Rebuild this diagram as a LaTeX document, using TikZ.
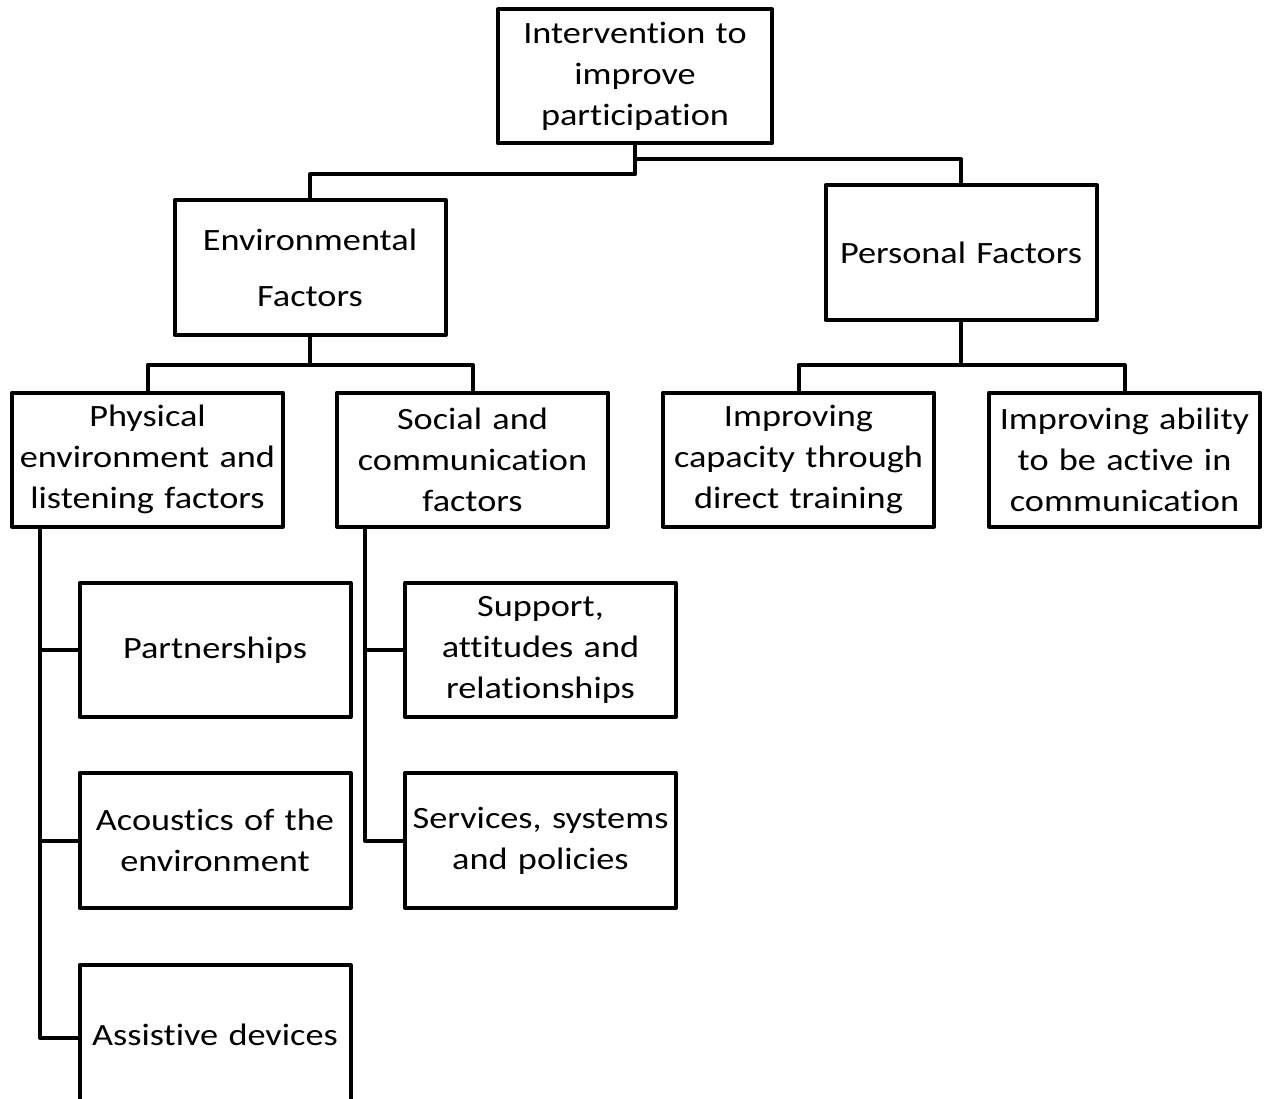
\documentclass[tikz,border=0pt]{standalone}
\usepackage{fontspec}
\setmainfont{Carlito}[FakeStretch=1.17, Ligatures=NoCommon]
\usetikzlibrary{positioning}

\begin{document}
\begin{tikzpicture}[
                    x=1pt, y=-1pt, % one unit per pixel of the layout, y runs down
                    every node/.style={font=\fontsize{31}{41}\selectfont},
                    factorbox/.style={draw, line width=4pt, line join=round, rectangle,
                        minimum width=271pt, minimum height=134pt, text width=268pt,
                        align=center, inner sep=0pt},
                    link/.style={line width=4pt, line join=round}
                ]

                \path[use as bounding box, clip] (0,0) rectangle (1265,1099);

                % top levels
                \node[factorbox, minimum width=274pt] (top) at (635,76.5) {Intervention to\\improve\\participation};
                \node[factorbox, minimum height=135pt] (env) at (310,267.5) {Environmental\\[15pt]Factors};
                \node[factorbox, minimum height=135pt] (pers) at (961,252.5) {Personal Factors};

                \node[factorbox] (phys) at (147.5,459.5) {Physical\\environment and\\listening factors};
                \node[factorbox] (soc) at (472.5,459.5) {Social and\\communication\\factors};
                \node[factorbox] (cap) at (798.5,459.5) {Improving\\capacity through\\direct training};
                \node[factorbox] (abil) at (1124.5,459.5) {Improving ability\\to be active in\\communication};

                % environmental branches
                \node[factorbox] (part) at (215,650) {Partnerships};
                \node[factorbox, minimum height=135pt] (acou) at (215,840.5) {Acoustics of the\\environment};
                \node[factorbox, minimum height=146pt] (assi) at (215,1038) {\raisebox{6pt}{Assistive devices}};
                \node[factorbox] (supp) at (540.5,650) {Support,\\attitudes and\\relationships};
                \node[factorbox, minimum height=135pt] (serv) at (540.5,840.5) {Services, systems\\and policies};

                \coordinate (physbus) at (40,526);
                \coordinate (socbus) at (365,526);

                \draw[link]
                    (top.south) -- ++(0,29) -| (env.north)
                    (top.south) -- ++(0,14) -| (pers.north);
                \draw[link]
                    (env.south) -- ++(0,28) -| (phys.north)
                    (env.south) -- ++(0,28) -| (soc.north);
                \draw[link]
                    (pers.south) -- ++(0,43) -| (cap.north)
                    (pers.south) -- ++(0,43) -| (abil.north);
                \draw[link] (physbus) |- (assi.west) (physbus) |- (acou.west) (physbus) |- (part.west);
                \draw[link] (socbus) |- (serv.west) (socbus) |- (supp.west);
            \end{tikzpicture}
\end{document}
